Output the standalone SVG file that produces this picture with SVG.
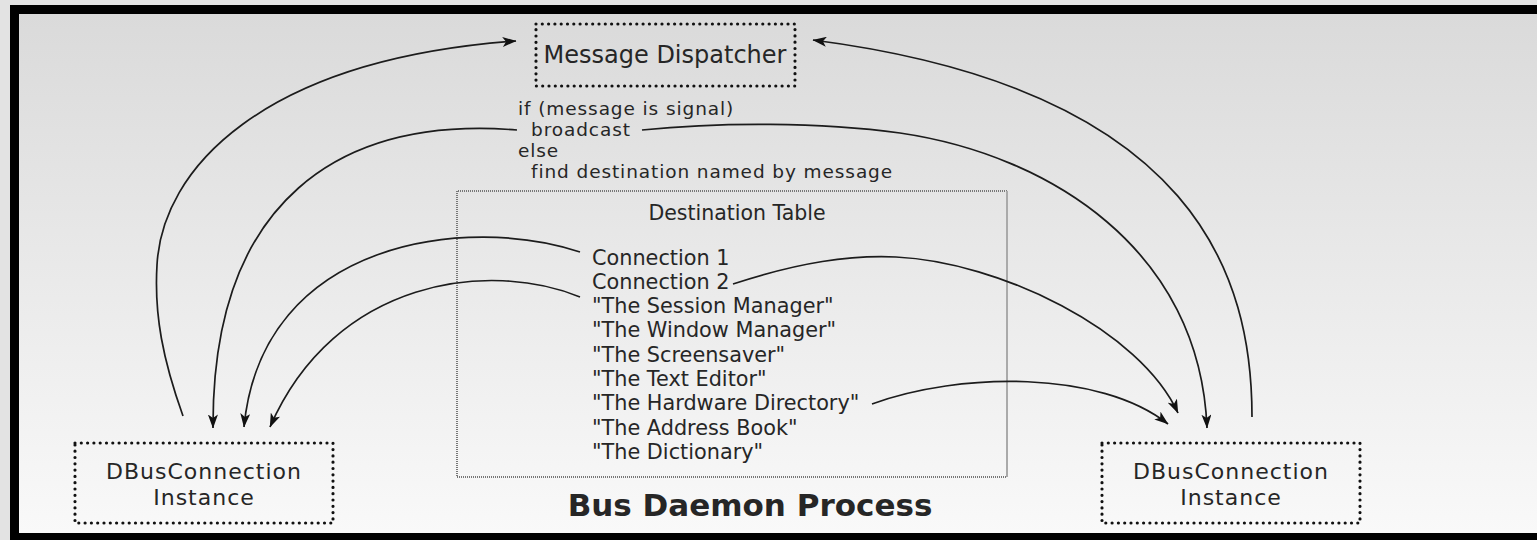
<svg xmlns="http://www.w3.org/2000/svg" width="1537" height="540" viewBox="0 0 1537 540">
  <style>
    .t { font-family: "DejaVu Sans", "Liberation Sans", sans-serif; fill: #262626; }
    .node { fill: none; stroke: #111; stroke-width: 3.2; stroke-dasharray: 0 6.3; stroke-linecap: round; }
    .conn { fill: none; stroke: #1c1c1c; stroke-width: 1.7; }
    .arrow { marker-end: url(#head); }
    .label { font-size: 22px; letter-spacing: 1px; text-anchor: middle; }
  </style>
  <defs>
    <linearGradient id="bg" x1="0" y1="0" x2="0" y2="1">
      <stop offset="0" stop-color="#dadada"/>
      <stop offset="1" stop-color="#f9f9f9"/>
    </linearGradient>
    <marker id="head" viewBox="0 0 14 10" markerWidth="14" markerHeight="10" refX="13.5" refY="5" orient="auto" markerUnits="userSpaceOnUse">
      <path d="M0,0 L14,5 L0,10 L3.5,5 z" fill="#111"/>
    </marker>
  </defs>

  <!-- page -->
  <rect x="0" y="0" width="1537" height="540" fill="#e3e3e3"/>

  <!-- process frame -->
  <g id="bus-daemon">
    <rect x="10" y="5" width="1540" height="545" fill="#000"/>
    <rect x="19" y="14" width="1530" height="519" fill="url(#bg)"/>
    <text class="t" x="750" y="516" font-size="31" font-weight="bold" text-anchor="middle" fill="#111">Bus Daemon Process</text>
  </g>

  <!-- dispatcher -->
  <g id="message-dispatcher">
    <rect class="node" x="536" y="24" width="259" height="62"/>
    <text class="t" x="665" y="63" font-size="24" text-anchor="middle">Message Dispatcher</text>
  </g>

  <g id="dispatch-rule">
    <text class="t" font-size="18.5" letter-spacing="0.9">
      <tspan x="518" y="115">if (message is signal)</tspan>
      <tspan x="531" y="136">broadcast</tspan>
      <tspan x="518" y="157">else</tspan>
      <tspan x="531" y="178">find destination named by message</tspan>
    </text>
  </g>

  <!-- destination table -->
  <g id="destination-table">
    <path d="M1007,191 L457,191 L457,477 L1007,477" fill="none" stroke="#777" stroke-width="2" stroke-dasharray="1 1"/>
    <path d="M1007,191 L1007,477" fill="none" stroke="#aaa" stroke-width="2"/>
    <text class="t" x="737" y="220" font-size="20.5" text-anchor="middle">Destination Table</text>
    <text class="t" font-size="20.8">
      <tspan x="592" y="265">Connection 1</tspan>
      <tspan x="592" y="289">Connection 2</tspan>
      <tspan x="592" y="313">"The Session Manager"</tspan>
      <tspan x="592" y="337">"The Window Manager"</tspan>
      <tspan x="592" y="362">"The Screensaver"</tspan>
      <tspan x="592" y="386">"The Text Editor"</tspan>
      <tspan x="592" y="410">"The Hardware Directory"</tspan>
      <tspan x="592" y="435">"The Address Book"</tspan>
      <tspan x="592" y="459">"The Dictionary"</tspan>
    </text>
  </g>

  <!-- client connections -->
  <g id="dbus-connection-left">
    <rect class="node" x="75" y="443" width="258" height="80"/>
    <text class="t label" x="204" y="479">DBusConnection</text>
    <text class="t label" x="204" y="505">Instance</text>
  </g>

  <g id="dbus-connection-right">
    <rect class="node" x="1102" y="443" width="258" height="80"/>
    <text class="t label" x="1231" y="479">DBusConnection</text>
    <text class="t label" x="1231" y="505">Instance</text>
  </g>

  <!-- message flow -->
  <g id="connectors">
    <!-- left instance sends to dispatcher -->
    <path class="conn arrow" d="M183,416 C163,360 154,315 157,265 C162,170 260,60 516,41"/>
    <!-- right instance sends to dispatcher -->
    <path class="conn arrow" d="M1252,417 C1252,280 1200,90 813,40"/>
    <!-- broadcast to both instances -->
    <path class="conn arrow" d="M517,130 C340,116 212,200 213,428"/>
    <path class="conn arrow" d="M642,130 C720,122 820,122 900,133 C1050,155 1200,250 1207,428"/>
    <!-- table entries routed to the left instance -->
    <path class="conn arrow" d="M580,252 C470,215 262,238 244,427"/>
    <path class="conn arrow" d="M580,297 C490,260 335,278 270,427"/>
    <!-- table entries routed to the right instance -->
    <path class="conn arrow" d="M733,284 C800,262 850,255 896,257 C1000,262 1140,330 1178,413"/>
    <path class="conn arrow" d="M872,404 C960,372 1100,370 1168,424"/>
  </g>
</svg>
